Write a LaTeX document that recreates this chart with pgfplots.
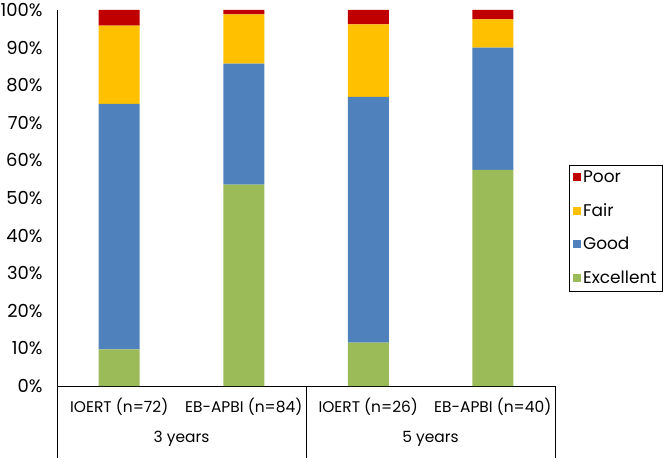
\documentclass[border=0pt]{standalone}
\usepackage{pgfplots}
\pgfplotsset{compat=1.18}
\usepackage{pgfplotstable}
\usepackage{fontspec}
\setmainfont{Poppins}
\definecolor{cPoor}{HTML}{C00000}
\definecolor{cFair}{HTML}{FFC000}
\definecolor{cGood}{HTML}{4F81BD}
\definecolor{cExc}{HTML}{9BBB59}
\pgfplotstableread{
x exc good fair poor
0 9.72 65.28 20.83 4.17
1 53.57 32.14 13.10 1.19
2 11.54 65.38 19.23 3.85
3 57.5 32.5 7.5 2.5
}\data
\begin{document}
\begin{tikzpicture}
\useasboundingbox (-57bp,-72bp) rectangle (612bp,386bp);
\begin{axis}[
  at={(0,0)}, anchor=south west,
  width=498bp, height=376bp, scale only axis,
  ybar stacked, bar width=41bp,
  xmin=-0.5, xmax=3.5, ymin=0, ymax=100,
  xtick={0,1,2,3},
  xticklabels={IOERT (n=72), EB-APBI (n=84), IOERT (n=26), EB-APBI (n=40)},
  ytick={0,10,...,100},
  /pgf/number format/assume math mode=true,
  yticklabel={\pgfmathprintnumber{\tick}\%},
  axis lines*=left,
  axis line style={black, line width=0.8pt},
  major tick length=0pt,
  xticklabel style={font=\fontsize{15.5}{18}\selectfont, yshift=-9bp},
  yticklabel style={font=\fontsize{18}{20}\selectfont, xshift=-11bp},
  clip=false,
  reverse legend,
  legend cell align=left,
  legend style={at={(rel axis cs:1.028,0.589)}, anchor=north west, draw=black,
    font=\fontsize{17}{19}\selectfont, row sep=15.5bp, inner sep=4bp},
]
\addplot[fill=cExc, draw=none, legend image code/.code={\fill[cExc] (0bp,-4bp) rectangle (8bp,4bp);}] table[x=x,y=exc]{\data};
\addlegendentry{Excellent}
\addplot[fill=cGood, draw=none, legend image code/.code={\fill[cGood] (0bp,-4bp) rectangle (8bp,4bp);}] table[x=x,y=good]{\data};
\addlegendentry{Good}
\addplot[fill=cFair, draw=none, legend image code/.code={\fill[cFair] (0bp,-4bp) rectangle (8bp,4bp);}] table[x=x,y=fair]{\data};
\addlegendentry{Fair}
\addplot[fill=cPoor, draw=none, legend image code/.code={\fill[cPoor] (0bp,-4bp) rectangle (8bp,4bp);}] table[x=x,y=poor]{\data};
\addlegendentry{Poor}
\draw[line width=0.8pt] (rel axis cs:0,0) -- ([yshift=-72bp]rel axis cs:0,0);
\draw[line width=0.8pt] (rel axis cs:0.5,0) -- ([yshift=-72bp]rel axis cs:0.5,0);
\draw[line width=0.8pt] (rel axis cs:1,0) -- ([yshift=-72bp]rel axis cs:1,0);
\node[font=\fontsize{15.5}{18}\selectfont] at ([yshift=-53bp]axis cs:0.5,0) {3 years};
\node[font=\fontsize{15.5}{18}\selectfont] at ([yshift=-53bp]axis cs:2.5,0) {5 years};
\end{axis}
\end{tikzpicture}
\end{document}
